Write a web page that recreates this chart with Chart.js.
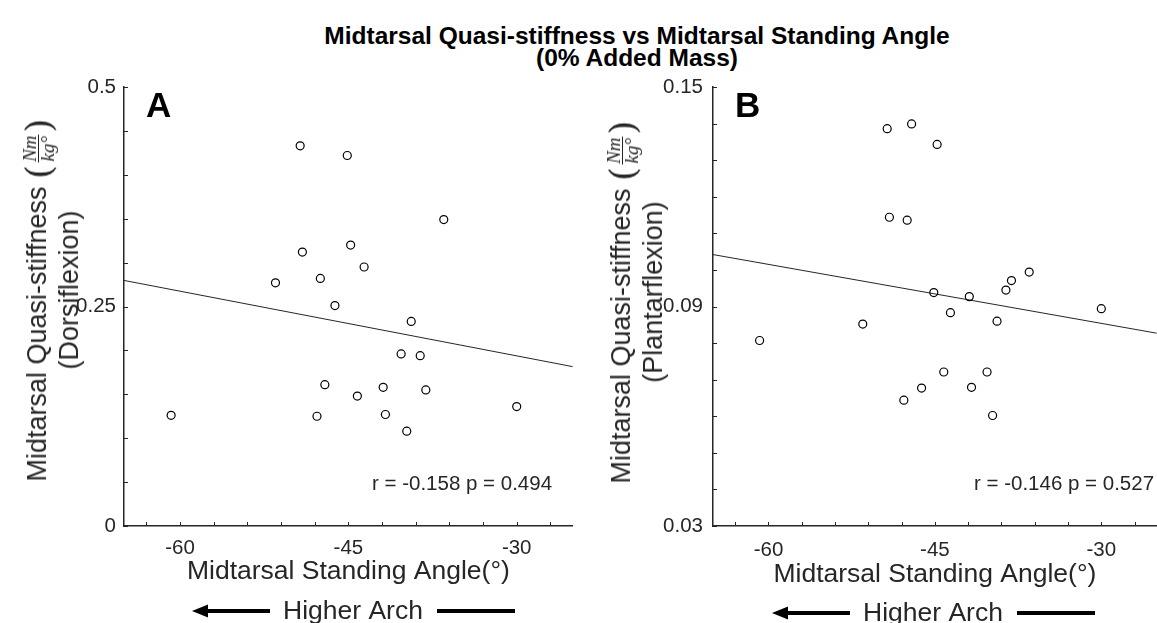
<!DOCTYPE html>
<html>
<head>
<meta charset="utf-8">
<script src="https://cdn.jsdelivr.net/npm/chart.js@4.4.1/dist/chart.umd.min.js"></script>
<style>
  html, body { margin: 0; padding: 0; background: #fff; }
  body { width: 1157px; height: 623px; overflow: hidden; position: relative;
         font-family: "Liberation Sans", Arial, sans-serif; color: #262626; }
  #title { position: absolute; left: 637px; top: 25px; transform: translateX(-50%);
           white-space: nowrap; text-align: center;
           font: bold 24.5px/22px "Liberation Sans", Arial, sans-serif; color: #000; }
  .wrap { position: absolute; top: 0; height: 623px; }
  .ylab { position: absolute; transform: translate(-50%, -50%) rotate(-90deg);
          white-space: nowrap; text-align: center; font: 27px/27px "Liberation Sans", Arial, sans-serif; }
  .ylab .l2 { position: relative; left: 10px; }
  .paren { font: 300 36px/27px "DejaVu Serif", serif; vertical-align: middle; }
  .frac { display: inline-block; vertical-align: middle; text-align: center;
          font: italic 19px/17px "Liberation Serif", "DejaVu Serif", serif; margin: 0 2px; }
  .frac span { display: block; padding: 0 1px; }
  .frac .num { border-bottom: 1px solid #262626; }
</style>
</head>
<body>
<div id="title">Midtarsal Quasi-stiffness vs Midtarsal Standing Angle<br>(0% Added Mass)</div>

<div class="wrap" style="left:0; width:578px;"><canvas id="chartA" width="578" height="623"></canvas></div>
<div class="wrap" style="left:580px; width:582px;"><canvas id="chartB" width="582" height="623"></canvas></div>

<div class="ylab" style="left:52px; top:300px;">
  <div>Midtarsal Quasi-stiffness <span class="paren">(</span><span class="frac"><span class="num">Nm</span><span>kg°</span></span><span class="paren">)</span></div>
  <div class="l2">(Dorsiflexion)</div>
</div>
<div class="ylab" style="left:636px; top:302px;">
  <div>Midtarsal Quasi-stiffness <span class="paren">(</span><span class="frac"><span class="num">Nm</span><span>kg°</span></span><span class="paren">)</span></div>
  <div class="l2">(Plantarflexion)</div>
</div>

<script>
// midtarsal standing angle (deg) per participant
const angle = [-49.3, -45.1, -36.5, -49.1, -44.8, -43.6, -51.5, -47.5, -46.2, -39.4, -40.3,
               -38.6, -47.1, -41.9, -38.1, -44.2, -60.8, -47.8, -41.7, -30.0, -39.8];
// quasi-stiffness (Nm/kg deg)
const dorsi = [0.433, 0.422, 0.349, 0.312, 0.320, 0.295, 0.277, 0.282, 0.251, 0.233, 0.196,
               0.194, 0.161, 0.158, 0.155, 0.148, 0.126, 0.125, 0.127, 0.136, 0.108];
const plantar = [0.1386, 0.0938, 0.0994, 0.1144, 0.1343, 0.0883, 0.0852, 0.1136, 0.0677, 0.0860, 0.0721,
                 0.0945, 0.1399, 0.0927, 0.0971, 0.0721, 0.0807, 0.0644, 0.0679, 0.0894, 0.0602];
// fitted lines (end points)
const fitAngle = [-65, -25];
const fitDorsi = [0.2797, 0.1815];
const fitPlantar = [0.1042, 0.0827];

const xTicks = [-63, -60, -57, -54, -51, -48, -45, -42, -39, -36, -33, -30, -27];
const xLabels = [-60, -45, -30];
const yTicksA = [0, 0.05, 0.1, 0.15, 0.2, 0.25, 0.3, 0.35, 0.4, 0.45, 0.5];
const yLabelsA = [0, 0.25, 0.5];
const yTicksB = [0.03, 0.04, 0.05, 0.06, 0.07, 0.08, 0.09, 0.1, 0.11, 0.12, 0.13, 0.14, 0.15];
const yLabelsB = [0.03, 0.09, 0.15];
const stats = ["r = -0.158 p = 0.494", "r = -0.146 p = 0.527"];

const FONT = '"Liberation Sans", Arial, sans-serif';
const AXIS = "#262626";

// inward tick marks, panel letter, stats text and the "Higher Arch" arrow
const panelDecor = {
  id: "panelDecor",
  afterDraw(chart, args, o) {
    const { ctx, chartArea: { left, bottom }, scales: { x, y } } = chart;
    ctx.save();
    ctx.strokeStyle = AXIS;
    ctx.lineWidth = 1;
    ctx.beginPath();
    x.ticks.forEach(t => {
      const px = Math.round(x.getPixelForValue(t.value)) + 0.5;
      ctx.moveTo(px, bottom); ctx.lineTo(px, bottom - 4);
    });
    y.ticks.forEach(t => {
      const py = Math.round(y.getPixelForValue(t.value)) + 0.5;
      ctx.moveTo(left, py); ctx.lineTo(left + 4, py);
    });
    ctx.stroke();

    ctx.fillStyle = "#000";
    ctx.textBaseline = "alphabetic";
    ctx.textAlign = "left";
    ctx.font = "bold 35px " + FONT;
    ctx.fillText(o.letter, left + 22, 117);

    ctx.fillStyle = AXIS;
    ctx.font = "20.5px " + FONT;
    ctx.fillText(o.stats, o.statsX, 490);

    // Higher Arch arrow
    const yc = o.arrowY;
    ctx.fillStyle = "#000";
    ctx.fillRect(200, yc - 2, 70, 4);
    ctx.beginPath();
    ctx.moveTo(192, yc); ctx.lineTo(208, yc - 6.5); ctx.lineTo(208, yc + 6.5); ctx.closePath();
    ctx.fill();
    ctx.fillRect(437, yc - 2, 78, 4);
    ctx.fillStyle = AXIS;
    ctx.font = "26.5px " + FONT;
    ctx.fillText("Higher Arch", 283, yc + 8);
    ctx.restore();
  }
};

function makePanel(id, yVals, fitY, yTicks, yLabels, yFmt, yWidth, yPad, rightPad, decor) {
  const pts = angle.map((a, i) => ({ x: a, y: yVals[i] }));
  const fit = fitAngle.map((a, i) => ({ x: a, y: fitY[i] }));
  return new Chart(document.getElementById(id), {
    type: "scatter",
    data: {
      datasets: [
        {
          type: "line",
          data: fit,
          borderColor: AXIS,
          borderWidth: 1,
          pointRadius: 0,
          order: 2
        },
        {
          data: pts,
          pointStyle: "circle",
          pointRadius: 4,
          borderWidth: 1.2,
          borderColor: "#000",
          backgroundColor: "rgba(255,255,255,0)",
          order: 1
        }
      ]
    },
    options: {
      responsive: false,
      animation: false,
      layout: { padding: { top: 87, right: rightPad, left: 0, bottom: 0 } },
      plugins: {
        legend: { display: false },
        tooltip: { enabled: false },
        panelDecor: decor
      },
      scales: {
        x: {
          type: "linear",
          min: -65,
          max: -25,
          afterBuildTicks: s => { s.ticks = xTicks.map(v => ({ value: v })); },
          afterFit: s => { s.height = 97; },
          ticks: {
            autoSkip: false,
            maxRotation: 0,
            padding: decor.tickPad,
            color: AXIS,
            font: { family: FONT, size: 20.5 },
            callback: v => (xLabels.includes(v) ? String(v) : "")
          },
          grid: { display: true, drawOnChartArea: false, drawTicks: false },
          border: { display: true, color: AXIS, width: 1.5 },
          title: {
            display: true,
            text: "Midtarsal Standing Angle(°)",
            color: AXIS,
            font: { family: FONT, size: 26.5 },
            padding: { top: 0, bottom: decor.titlePad }
          }
        },
        y: {
          type: "linear",
          min: yTicks[0],
          max: yTicks[yTicks.length - 1],
          afterBuildTicks: s => { s.ticks = yTicks.map(v => ({ value: v })); },
          afterFit: s => { s.width = yWidth; },
          ticks: {
            autoSkip: false,
            padding: yPad,
            color: AXIS,
            font: { family: FONT, size: 20.5 },
            callback: v => (yLabels.some(l => Math.abs(l - v) < 1e-9) ? yFmt(v) : "")
          },
          grid: { display: true, drawOnChartArea: false, drawTicks: false },
          border: { display: true, color: AXIS, width: 1.5 }
        }
      }
    },
    plugins: [panelDecor]
  });
}

makePanel("chartA", dorsi, fitDorsi, yTicksA, yLabelsA, v => String(v), 124, 8, 5,
  { letter: "A", stats: stats[0], statsX: 372, arrowY: 611, tickPad: 10, titlePad: 35 });
makePanel("chartB", plantar, fitPlantar, yTicksB, yLabelsB, v => v.toFixed(2), 133, 10, 0,
  { letter: "B", stats: stats[1], statsX: 394, arrowY: 613, tickPad: 12, titlePad: 32 });
</script>
</body>
</html>
